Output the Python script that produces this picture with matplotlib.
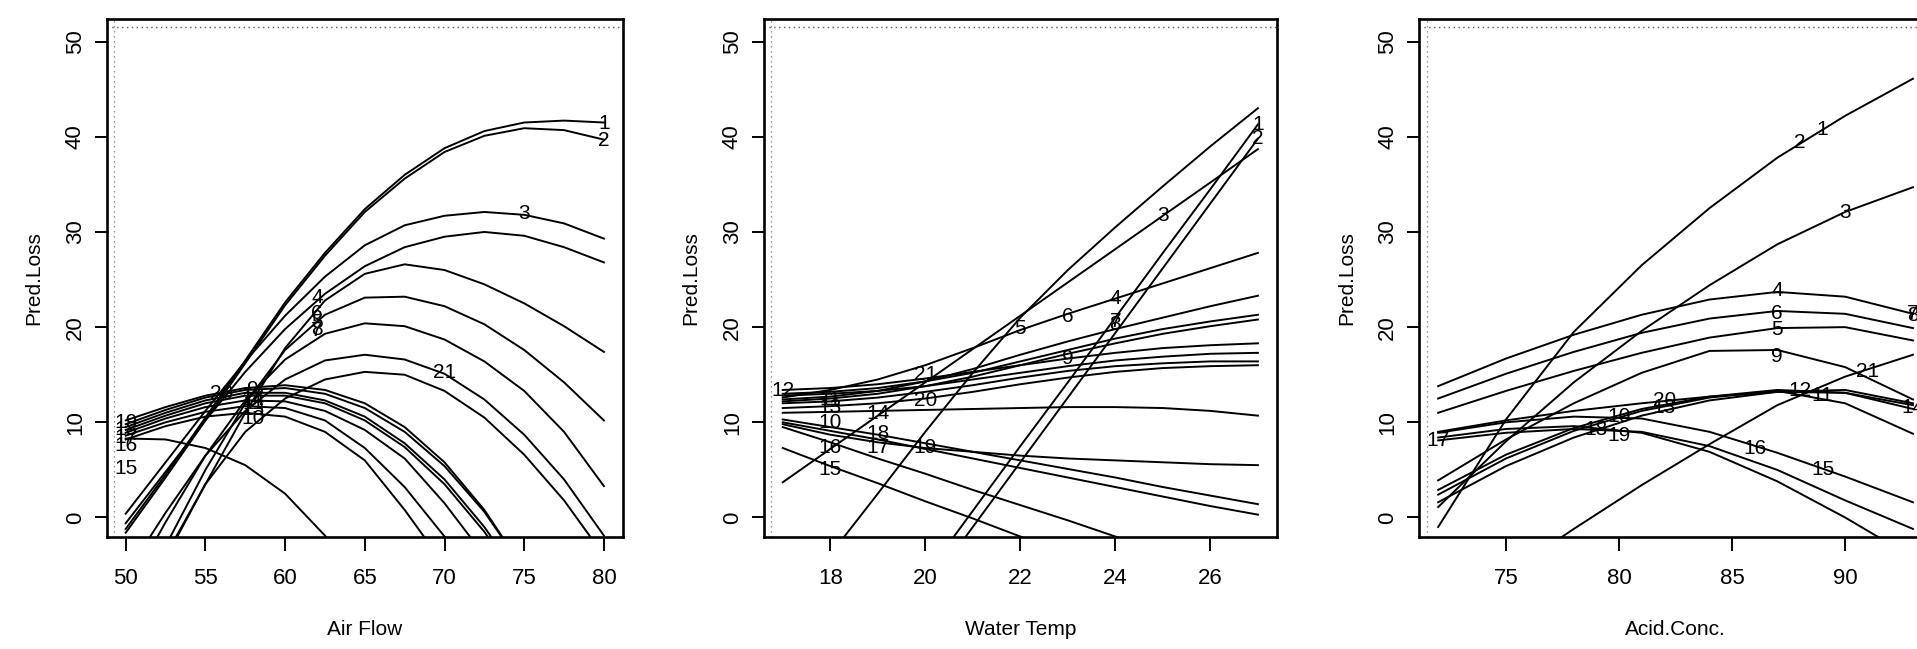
import matplotlib
matplotlib.use("Agg")
import matplotlib.pyplot as plt

plt.rcParams['font.family'] = ['Liberation Sans', 'DejaVu Sans']

# ---- Air Flow panel: predicted loss per observation, evaluated on an air-flow grid
air_x = [50, 52.5, 55, 57.5, 60, 62.5, 65, 67.5, 70, 72.5, 75, 77.5, 80]
air_curves = [
    [-1.2, 4.5, 10.5, 16.5, 22.6, 27.8, 32.4, 36.0, 38.8, 40.6, 41.5, 41.7, 41.5],
    [-1.6, 4.2, 10.2, 16.2, 22.3, 27.5, 32.1, 35.6, 38.4, 40.1, 40.9, 40.7, 39.7],
    [0.4, 5.8, 11.2, 16.4, 21.2, 25.3, 28.6, 30.7, 31.7, 32.1, 31.8, 30.9, 29.3],
    [-0.6, 4.8, 10.2, 15.3, 19.8, 23.5, 26.4, 28.4, 29.5, 30.0, 29.6, 28.4, 26.8],
    [-12.5, -4.3, 3.5, 11.0, 17.8, 22.8, 25.6, 26.6, 26.0, 24.5, 22.5, 20.1, 17.4],
    [-11.0, -3.0, 5.0, 12.0, 17.6, 21.3, 23.1, 23.2, 22.2, 20.3, 17.6, 14.2, 10.2],
    [-8.0, -0.5, 6.5, 12.3, 16.6, 19.3, 20.4, 20.1, 18.7, 16.4, 13.3, 9.0, 3.3],
    [-6.0, 0.5, 6.5, 11.2, 14.5, 16.5, 17.1, 16.6, 15.1, 12.4, 8.7, 4.0, -1.9],
    [-11.0, -4.0, 3.5, 9.0, 12.5, 14.5, 15.3, 15.0, 13.3, 10.5, 6.6, 1.8, -4.0],
    [10.2, 11.6, 12.8, 13.6, 13.9, 13.4, 12.0, 9.5, 5.8, 0.8, -5.5, -12.0, -19.0],
    [9.8, 11.3, 12.6, 13.4, 13.6, 13.0, 11.5, 9.0, 5.4, 0.6, -5.5, -12.0, -19.0],
    [9.5, 11.0, 12.3, 13.1, 13.1, 12.3, 10.6, 7.8, 4.0, -1.0, -7.0, -14.0, -21.0],
    [9.2, 10.7, 12.0, 12.8, 12.8, 12.0, 10.2, 7.4, 3.5, -1.5, -7.5, -14.0, -21.0],
    [8.9, 10.4, 11.6, 12.3, 12.2, 11.2, 9.2, 6.2, 1.5, -4.0, -10.0, -17.0, -24.0],
    [8.6, 10.0, 11.1, 11.7, 11.5, 10.2, 7.3, 3.2, -2.0, -8.0, -15.0, -22.0, -30.0],
    [8.2, 9.6, 10.6, 11.0, 10.6, 9.0, 6.0, 0.8, -5.0, -11.0, -18.0, -26.0, -34.0],
    [8.3, 8.2, 7.3, 5.5, 2.5, -1.9, -7.0, -13.0, -19.0, -26.0, -33.0, -41.0, -49.0],
]
air_label_x = [80, 80, 75, 62, 62, 62, 62, 62, 58, 58, 58, 58, 58, 58, 50, 50, 50, 50, 50, 56, 70]
air_label_y = [41.4, 39.6, 31.9, 23.1, 20.5, 21.4, 19.6, 19.8, 13.5, 10.4, 12.0, 12.8, 11.3,
               12.4, 5.1, 7.6, 8.4, 9.2, 10.0, 13.0, 15.2]

# ---- Water Temp panel
water_x = [17, 18, 19, 20, 21, 22, 23, 24, 25, 26, 27]
water_curves = [
    [-10.5, -3.9, 2.5, 9.0, 15.2, 21.0, 26.0, 30.5, 34.8, 39.0, 43.0],
    [-26.4, -19.6, -12.8, -6.1, 0.7, 7.5, 14.2, 21.0, 27.8, 34.5, 41.3],
    [-28.2, -21.4, -14.6, -7.8, -1.0, 5.8, 12.6, 19.4, 26.2, 33.0, 39.8],
    [3.7, 7.2, 10.7, 14.2, 17.7, 21.2, 24.7, 28.2, 31.7, 35.2, 38.7],
    [12.6, 13.4, 14.5, 16.0, 17.8, 19.7, 21.4, 23.0, 24.6, 26.2, 27.8],
    [12.4, 12.7, 13.3, 14.3, 15.6, 17.1, 18.5, 19.8, 21.0, 22.2, 23.3],
    [13.0, 13.2, 13.6, 14.3, 15.2, 16.4, 17.6, 18.8, 19.8, 20.6, 21.3],
    [12.2, 12.5, 13.0, 13.8, 14.8, 16.0, 17.2, 18.3, 19.3, 20.1, 20.8],
    [13.4, 13.6, 14.0, 14.6, 15.3, 16.0, 16.7, 17.3, 17.8, 18.1, 18.3],
    [12.8, 13.0, 13.3, 13.8, 14.5, 15.2, 15.9, 16.5, 16.9, 17.2, 17.3],
    [12.0, 12.2, 12.6, 13.2, 13.9, 14.7, 15.4, 15.9, 16.2, 16.4, 16.4],
    [11.5, 11.7, 12.0, 12.5, 13.2, 14.0, 14.7, 15.3, 15.7, 15.9, 16.0],
    [11.0, 11.1, 11.2, 11.3, 11.4, 11.5, 11.6, 11.6, 11.5, 11.2, 10.7],
    [10.3, 9.5, 8.7, 7.8, 6.9, 6.0, 5.1, 4.2, 3.2, 2.3, 1.4],
    [10.0, 9.1, 8.2, 7.2, 6.2, 5.2, 4.2, 3.2, 2.2, 1.2, 0.3],
    [9.8, 8.7, 7.9, 7.3, 6.9, 6.5, 6.2, 6.0, 5.8, 5.6, 5.5],
    [9.5, 7.9, 6.2, 4.6, 2.9, 1.3, -0.3, -2.0, -3.6, -5.3, -6.9],
    [7.3, 5.4, 3.6, 1.7, -0.1, -2.0, -3.9, -5.8, -7.7, -9.6, -11.5],
]
water_label_x = [27, 27, 25, 24, 22, 23, 24, 24, 23, 18, 18, 17, 18, 19, 18, 18, 19, 19, 20, 20, 20]
water_label_y = [41.3, 39.8, 31.7, 23.0, 19.9, 21.1, 20.6, 20.3, 16.7, 10.0, 12.4, 13.3, 11.6,
                 10.9, 5.0, 7.4, 7.4, 8.8, 7.4, 12.3, 15.0]

# ---- Acid Conc. panel
acid_x = [72, 75, 78, 81, 84, 87, 90, 93]
acid_curves = [
    [-1.0, 10.3, 19.5, 26.5, 32.5, 37.8, 42.2, 46.1],
    [1.1, 8.0, 14.2, 19.6, 24.4, 28.7, 32.1, 34.7],
    [13.8, 16.7, 19.2, 21.3, 22.9, 23.7, 23.2, 21.4],
    [12.5, 15.1, 17.4, 19.4, 20.9, 21.7, 21.4, 19.9],
    [11.0, 13.3, 15.4, 17.3, 18.9, 19.9, 20.0, 18.6],
    [3.9, 8.2, 12.0, 15.2, 17.5, 17.6, 15.8, 12.4],
    [-14.0, -6.0, -1.2, 3.4, 7.7, 11.8, 14.8, 17.1],
    [2.4, 6.2, 9.1, 11.2, 12.6, 13.3, 12.0, 8.8],
    [2.9, 6.6, 9.4, 11.4, 12.7, 13.4, 13.1, 11.4],
    [1.6, 5.4, 8.4, 10.7, 12.3, 13.2, 13.4, 12.0],
    [9.0, 10.2, 11.2, 12.0, 12.7, 13.2, 13.1, 11.8],
    [8.9, 10.0, 10.6, 10.4, 9.0, 6.8, 4.3, 1.6],
    [8.1, 8.9, 9.3, 9.0, 7.5, 5.0, 1.8, -1.2],
    [8.4, 9.3, 9.6, 8.9, 6.9, 3.8, 0.0, -4.2],
]
acid_label_x = [89, 88, 90, 87, 87, 87, 93, 93, 87, 80, 89, 88, 82, 93, 89, 86, 72, 79, 80, 82, 91]
acid_label_y = [40.8, 39.4, 32.0, 23.9, 19.7, 21.4, 21.4, 21.2, 16.9, 10.6, 12.8, 13.3, 11.6,
                11.6, 5.0, 7.3, 8.1, 9.2, 8.6, 12.3, 15.3]

obs_ids = ['1', '2', '3', '4', '5', '6', '7', '8', '9', '10', '11', '12', '13', '14',
           '15', '16', '17', '18', '19', '20', '21']


def draw_panel(ax, xs, curves, lab_x, lab_y, xlim, xticks, xlabel):
    for ys in curves:
        ax.plot(xs, ys, color='black', lw=1.4, solid_joinstyle='round')
    for txt, lx, ly in zip(obs_ids, lab_x, lab_y):
        ax.text(lx, ly, txt, ha='center', va='center', fontsize=15, color='black')

    ax.set_xlim(*xlim)
    ax.set_ylim(-2.0, 52.4)
    ax.set_xticks(xticks)
    ax.set_yticks([0, 10, 20, 30, 40, 50])
    ax.tick_params(axis='x', length=10, width=1.4, pad=13, labelsize=16)
    ax.tick_params(axis='y', length=9, width=1.4, pad=6, labelsize=16, labelrotation=90)
    for lab in ax.get_yticklabels():
        lab.set_va('center')
    for sp in ax.spines.values():
        sp.set_linewidth(1.9)

    # faint dotted frame just inside the box
    ax.axhline(51.5, color='0.35', lw=1.0, ls=(0, (1, 2.5)))
    ax.plot([0.015, 0.015], [0, 1], transform=ax.transAxes, color='0.45', lw=0.9, ls=(0, (1, 3)))

    ax.text(0.5, -0.179, xlabel, transform=ax.transAxes, ha='center', va='center', fontsize=15)
    ax.text(-0.142, 0.5, 'Pred.Loss', transform=ax.transAxes, ha='center', va='center',
            rotation=90, fontsize=15)


fig = plt.figure(figsize=(19.17, 6.49), dpi=100)
ax1 = fig.add_axes([0.0556, 0.1733, 0.2694, 0.7978])
ax2 = fig.add_axes([0.3984, 0.1733, 0.2677, 0.7978])
ax3 = fig.add_axes([0.7403, 0.1733, 0.2675, 0.7978])

draw_panel(ax1, air_x, air_curves, air_label_x, air_label_y, (48.8, 81.2),
           [50, 55, 60, 65, 70, 75, 80], 'Air Flow')
draw_panel(ax2, water_x, water_curves, water_label_x, water_label_y, (16.6, 27.4),
           [18, 20, 22, 24, 26], 'Water Temp')
draw_panel(ax3, acid_x, acid_curves, acid_label_x, acid_label_y, (71.16, 93.84),
           [75, 80, 85, 90], 'Acid.Conc.')

fig.savefig('out.png', dpi=100)
plt.close(fig)
